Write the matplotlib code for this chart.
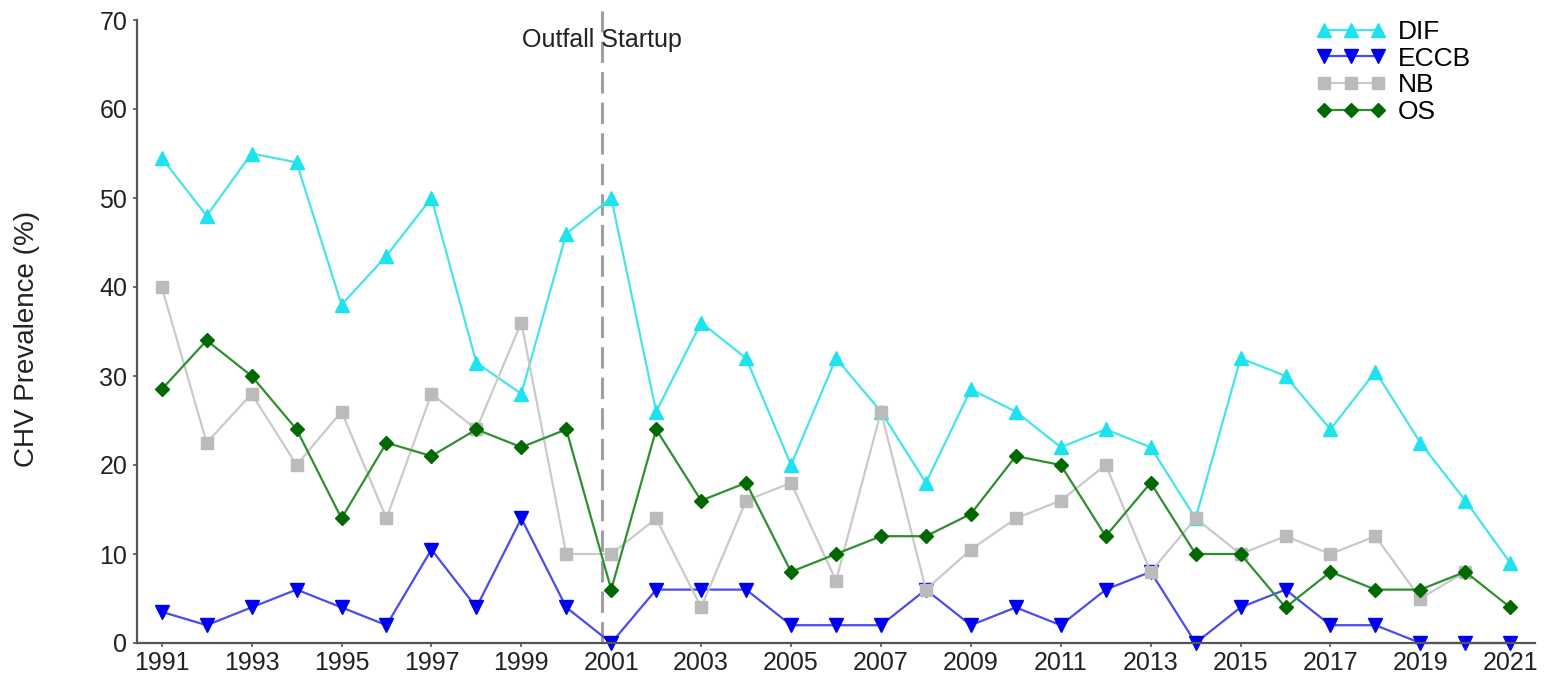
import numpy as np
import matplotlib.pyplot as plt

plt.rcParams['font.family'] = ['Liberation Sans', 'DejaVu Sans']

# === Datos ===
years = np.arange(1991, 2022)

dif = [54.5, 48, 55, 54, 38, 43.5, 50, 31.5, 28, 46,
       50, 26, 36, 32, 20, 32, 26, 18, 28.5, 26,
       22, 24, 22, 14, 32, 30, 24, 30.5, 22.5, 16, 9]

eccb = [3.5, 2, 4, 6, 4, 2, 10.5, 4, 14, 4,
        0, 6, 6, 6, 2, 2, 2, 6, 2, 4,
        2, 6, 8, 0, 4, 6, 2, 2, 0, 0, 0]

nb = [40, 22.5, 28, 20, 26, 14, 28, 24, 36, 10,
      10, 14, 4, 16, 18, 7, 26, 6, 10.5, 14,
      16, 20, 8, 14, 10, 12, 10, 12, 5, 8, np.nan]

os_ = [28.5, 34, 30, 24, 14, 22.5, 21, 24, 22, 24,
       6, 24, 16, 18, 8, 10, 12, 12, 14.5, 21,
       20, 12, 18, 10, 10, 4, 8, 6, 6, 8, 4]

startup_year = 2000.8
xtick_years = np.arange(1991, 2022, 2)
yticks = np.arange(0, 71, 10)

# === Figura ===
fig = plt.figure(figsize=(15.47, 6.85), dpi=100)
ax = fig.add_axes([137/1547, 42/685, 1398/1547, 623/685])

ax.plot(years, dif, '-^', color='#45E4EC', mfc='#1EE2EE', mec='#1EE2EE',
        ms=9.5, lw=1.6, label='DIF', clip_on=False)
ax.plot(years, eccb, '-v', color='#4B4BEE', mfc='#0000F0', mec='#0000F0',
        ms=9.5, lw=1.6, label='ECCB', clip_on=False)
ax.plot(years, nb, '-s', color='#CACACA', mfc='#BBBBBB', mec='#BBBBBB',
        ms=8.5, lw=1.6, label='NB', clip_on=False)
ax.plot(years, os_, '-D', color='#2F8F2F', mfc='#006A00', mec='#006A00',
        ms=7.5, lw=1.6, label='OS', clip_on=False)

ax.plot([startup_year, startup_year], [0, 71], color='#A0A0A0', lw=2.2,
        ls=(0, (7, 3)), clip_on=False, zorder=0.5)
ax.text(startup_year, 67.8, 'Outfall Startup', ha='center', va='center',
        fontsize=18, color='#222222')

ax.set_xlim(1990.45, 2021.55)
ax.set_ylim(0, 70)
ax.set_xticks(xtick_years)
ax.set_yticks(yticks)

for s in ['top', 'right']:
    ax.spines[s].set_visible(False)
for s in ['left', 'bottom']:
    ax.spines[s].set_color('#555555')
    ax.spines[s].set_linewidth(1.6)

ax.tick_params(axis='both', labelsize=18, colors='#555555', labelcolor='#222222',
               length=3, width=1.2, direction='out')
ax.tick_params(axis='x', pad=3)
ax.tick_params(axis='y', pad=4)

fig.text(27/1547, 0.505, 'CHV Prevalence (%)', rotation=90, ha='center',
         va='center', fontsize=20, color='#222222')

ax.legend(loc='upper left', bbox_to_anchor=(1316/1547, 1 - 20/685),
          bbox_transform=fig.transFigure, frameon=False, fontsize=19,
          numpoints=3, handlelength=2.65, handletextpad=0.45,
          labelspacing=0.1, borderpad=0, borderaxespad=0)

fig.savefig('out.png', dpi=100)
